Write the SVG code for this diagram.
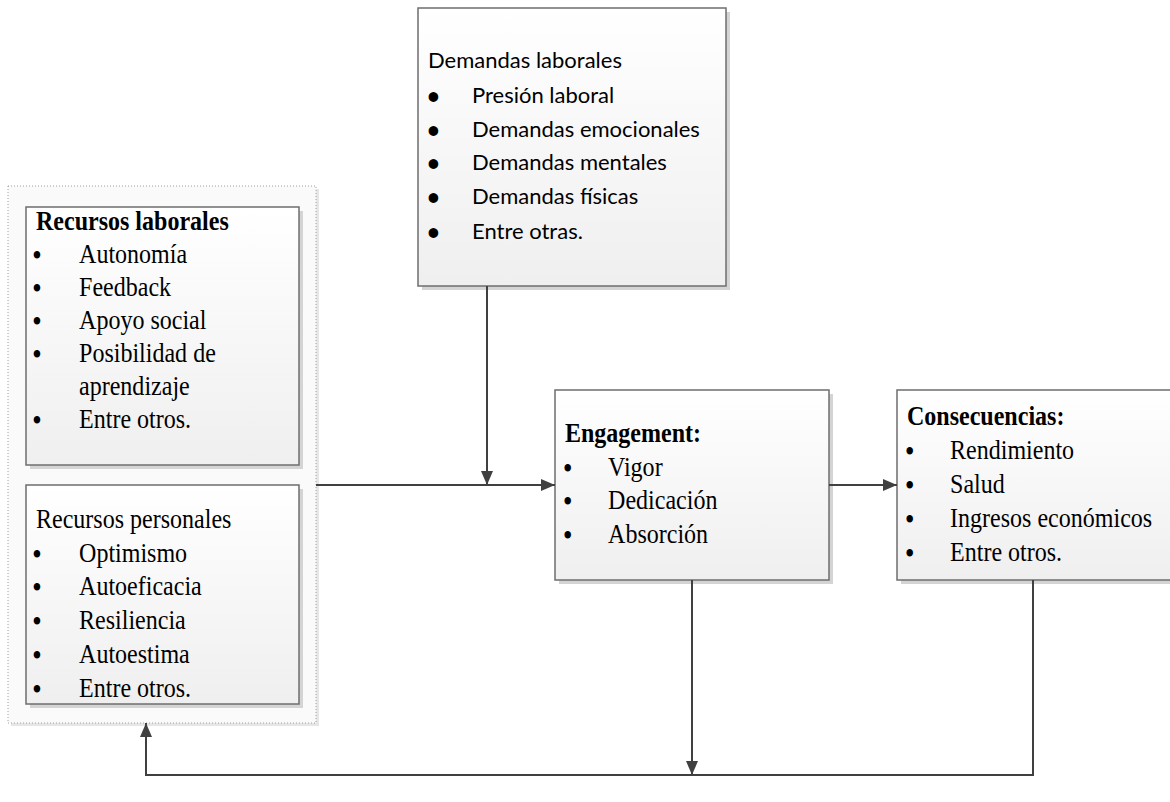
<svg xmlns="http://www.w3.org/2000/svg" width="1170" height="802" viewBox="0 0 1170 802">
<style>
.box{fill:url(#g);stroke:#6e6e6e;stroke-width:1.5}
.sh{fill:#d4d4d4}
.t{font-family:"Liberation Serif","Times New Roman",serif;font-size:27px;fill:#000}
.b{font-weight:bold}
.u{font-family:"Liberation Serif","Times New Roman",serif;font-size:27px;font-weight:bold;fill:#000}
.c{font-family:"Lato","Noto Sans",sans-serif;font-size:22px;fill:#000}
.cu{font-family:"Lato","Noto Sans",sans-serif;font-size:22px;font-weight:bold;fill:#000}
.ln{fill:none;stroke:#404040;stroke-width:2}
</style>
<defs>
<linearGradient id="g" x1="0" y1="0" x2="0" y2="1">
<stop offset="0" stop-color="#ffffff"/>
<stop offset="1" stop-color="#efefef"/>
</linearGradient>
<marker id="ah" viewBox="0 0 14 12" refX="14" refY="6" markerWidth="14" markerHeight="12" markerUnits="userSpaceOnUse" orient="auto">
<path d="M0,0 L14,6 L0,12 Z" fill="#404040"/>
</marker>
</defs>
<rect width="1170" height="802" fill="#ffffff"/>

<g id="recursos">
<rect x="11" y="189" width="308" height="537" fill="#e6e6e6"/>
<rect x="8" y="186" width="308" height="537" fill="#fafafa" stroke="#a0a0a0" stroke-width="1" stroke-dasharray="1,2"/>
</g>

<g id="recursos-laborales">
<rect class="sh" x="30" y="211" width="273" height="258"/>
<rect class="box" x="26" y="207" width="273" height="258"/>
<g transform="translate(26,0) scale(0.89,1)">
<text class="t b" x="11.2" y="230">Recursos laborales</text>
<text class="u" x="7.5" y="264">•</text><text class="t" x="59.6" y="263">Autonomía</text>
<text class="u" x="7.5" y="297">•</text><text class="t" x="59.6" y="296">Feedback</text>
<text class="u" x="7.5" y="330">•</text><text class="t" x="59.6" y="329">Apoyo social</text>
<text class="u" x="7.5" y="363">•</text><text class="t" x="59.6" y="362">Posibilidad de</text>
<text class="t" x="59.6" y="395">aprendizaje</text>
<text class="u" x="7.5" y="429">•</text><text class="t" x="59.6" y="428">Entre otros.</text>
</g>
</g>

<g id="recursos-personales">
<rect class="sh" x="30" y="489" width="273" height="219"/>
<rect class="box" x="26" y="485" width="273" height="219"/>
<g transform="translate(26,0) scale(0.89,1)">
<text class="t" x="11.2" y="528">Recursos personales</text>
<text class="u" x="7.5" y="563">•</text><text class="t" x="59.6" y="562">Optimismo</text>
<text class="u" x="7.5" y="596">•</text><text class="t" x="59.6" y="595">Autoeficacia</text>
<text class="u" x="7.5" y="630">•</text><text class="t" x="59.6" y="629">Resiliencia</text>
<text class="u" x="7.5" y="664">•</text><text class="t" x="59.6" y="663">Autoestima</text>
<text class="u" x="7.5" y="698">•</text><text class="t" x="59.6" y="697">Entre otros.</text>
</g>
</g>

<g id="demandas">
<rect class="sh" x="422" y="12" width="308" height="278"/>
<rect class="box" x="418" y="8" width="308" height="278"/>
<text class="c" x="428" y="68">Demandas laborales</text>
<text class="cu" x="427" y="104">•</text><text class="c" x="472" y="103">Presión laboral</text>
<text class="cu" x="427" y="138">•</text><text class="c" x="472" y="137">Demandas emocionales</text>
<text class="cu" x="427" y="171">•</text><text class="c" x="472" y="170">Demandas mentales</text>
<text class="cu" x="427" y="205">•</text><text class="c" x="472" y="204">Demandas físicas</text>
<text class="cu" x="427" y="240">•</text><text class="c" x="472" y="239">Entre otras.</text>
</g>

<g id="engagement">
<rect class="sh" x="559" y="394" width="274" height="190"/>
<rect class="box" x="555" y="390" width="274" height="190"/>
<g transform="translate(555,0) scale(0.89,1)">
<text class="t b" x="11.2" y="442">Engagement:</text>
<text class="u" x="9.5" y="477">•</text><text class="t" x="59.6" y="476">Vigor</text>
<text class="u" x="9.5" y="510">•</text><text class="t" x="59.6" y="509">Dedicación</text>
<text class="u" x="9.5" y="544">•</text><text class="t" x="59.6" y="543">Absorción</text>
</g>
</g>

<g id="consecuencias">
<rect class="sh" x="901" y="394" width="274" height="190"/>
<rect class="box" x="897" y="390" width="276" height="190"/>
<g transform="translate(897,0) scale(0.89,1)">
<text class="t b" x="11.2" y="425">Consecuencias:</text>
<text class="u" x="9.5" y="460">•</text><text class="t" x="59.6" y="459">Rendimiento</text>
<text class="u" x="9.5" y="494">•</text><text class="t" x="59.6" y="493">Salud</text>
<text class="u" x="9.5" y="528">•</text><text class="t" x="59.6" y="527">Ingresos económicos</text>
<text class="u" x="9.5" y="562">•</text><text class="t" x="59.6" y="561">Entre otros.</text>
</g>
</g>

<g id="connectors">
<path class="ln" d="M316,485 L555,485" marker-end="url(#ah)"/>
<path class="ln" d="M487,286 L487,485" marker-end="url(#ah)"/>
<path class="ln" d="M829,485 L897,485" marker-end="url(#ah)"/>
<path class="ln" d="M692,580 L692,775" marker-end="url(#ah)"/>
<path class="ln" d="M1033,580 L1033,775 L146,775 L146,723" marker-end="url(#ah)"/>
</g>
</svg>
